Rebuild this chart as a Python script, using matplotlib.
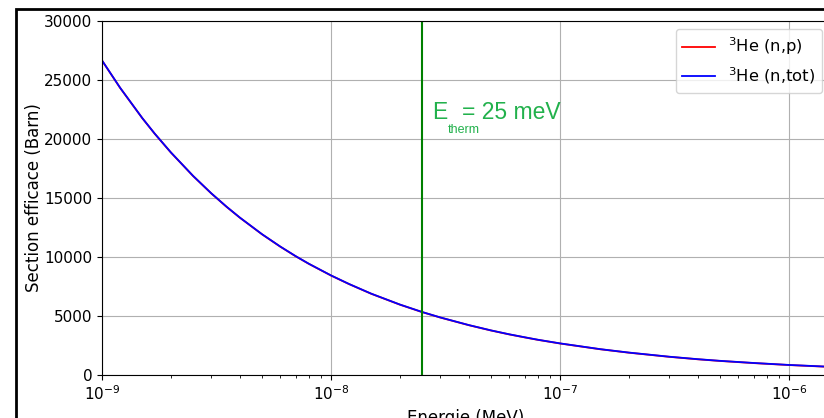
import numpy as np
import matplotlib
matplotlib.use("Agg")
import matplotlib.pyplot as plt
from matplotlib.patches import Rectangle

# cross section (energy in MeV, sigma in barn)
energy = [1e-9, 1.2e-9, 1.5e-9, 1.7e-9, 2e-9, 2.5e-9, 3e-9, 3.5e-9, 4e-9, 5e-9,
          6e-9, 7e-9, 8e-9, 1e-8, 1.2e-8, 1.5e-8, 2e-8, 2.5e-8, 3e-8, 4e-8,
          5e-8, 6e-8, 7e-8, 8e-8, 1e-7, 1.5e-7, 2e-7, 3e-7, 4e-7, 5e-7,
          7e-7, 1e-6, 1.5e-6]
sigma_np = [26650, 24330, 21760, 20440, 18850, 16860, 15390, 14250, 13330, 11920,
            10880, 10070, 9420, 8430, 7700, 6880, 5960, 5330, 4870, 4220,
            3770, 3440, 3190, 2980, 2670, 2180, 1890, 1540, 1330, 1190,
            1010, 843, 690]
sigma_tot = [26660, 24340, 21770, 20450, 18860, 16870, 15400, 14260, 13340, 11930,
             10890, 10080, 9430, 8440, 7710, 6890, 5970, 5340, 4880, 4230,
             3780, 3450, 3200, 2990, 2680, 2190, 1900, 1550, 1340, 1200,
             1020, 852, 699]
e_therm = 2.5e-8

fig = plt.figure(figsize=(8.24, 4.18), dpi=100)
ax = fig.add_axes([102/824, 43/418, 728/824, 354/418])

ax.plot(energy, sigma_np, color="red", lw=1.3, label=r"$^3$He (n,p)")
ax.plot(energy, sigma_tot, color="blue", lw=1.3, label=r"$^3$He (n,tot)")
ax.axvline(e_therm, color="green", lw=1.5)

ax.set_xscale("log")
ax.set_xlim(1e-9, 10**(-9 + 728/229))
ax.set_ylim(0, 30000)
ax.grid(True, which="major", color="#b0b0b0", lw=0.8)
ax.set_xlabel("Energie (MeV)", fontsize=12)
ax.set_ylabel("Section efficace (Barn)", fontsize=12, labelpad=0.5)
ax.tick_params(labelsize=11)

# annotation for thermal energy
tc = "#22b14c"
ax.text(0.453, 0.723, "E", transform=ax.transAxes, color=tc, fontsize=16.5,
        family="Liberation Sans", va="baseline")
ax.text(0.475, 0.684, "therm", transform=ax.transAxes, color=tc, fontsize=9,
        family="Liberation Sans", va="baseline")
ax.text(0.494, 0.723, "= 25 meV", transform=ax.transAxes, color=tc, fontsize=16.5,
        family="Liberation Sans", va="baseline")

ax.legend(loc="upper right", fontsize=11.8)

# black frame of the original figure (cropped at right and bottom)
fig.patches.append(Rectangle((16/824, -0.1), 1.2, 1.1 - 9/418, transform=fig.transFigure,
                             fill=False, edgecolor="black", lw=2))

fig.savefig("out.png", dpi=100)
